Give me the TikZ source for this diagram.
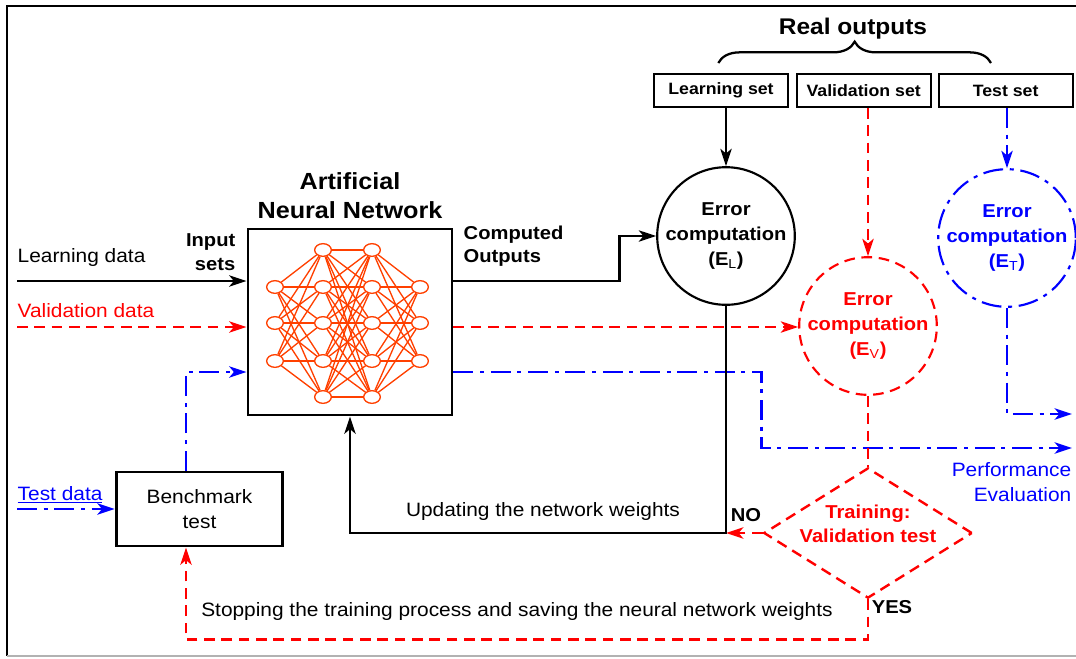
\documentclass[tikz,border=0pt]{standalone}
\usepackage{fontspec}
\setmainfont{Liberation Sans}[FakeStretch=1.08]
\usepackage{tikz}
\usetikzlibrary{
  shapes.geometric, arrows.meta, positioning, calc,
  decorations.pathreplacing
}
\definecolor{colorV}{HTML}{FF0000}
\definecolor{colorT}{HTML}{0000FF}
\definecolor{colorN}{HTML}{FF4000}

\begin{document}
\begin{tikzpicture}[
  x=0.75pt, y=-0.75pt,
  every node/.style={font=\fontsize{14.5}{19}\selectfont},
  bftext/.style={font=\fontsize{14}{17.5}\selectfont\bfseries},
  setbox/.style={draw, line width=1.5pt, minimum width=100.5pt, minimum height=24.75pt,
                 inner sep=0pt, font=\fontsize{12.3}{13}\selectfont\bfseries},
  errcirc/.style={circle, draw, line width=1.6pt, minimum size=100.5pt, inner sep=0pt,
                  align=center, font=\fontsize{14}{18.5}\selectfont\bfseries},
  neuron/.style={ellipse, draw=colorN, line width=1pt, fill=white,
                 minimum width=12.5pt, minimum height=9.5pt, inner sep=0pt},
  syn/.style={draw=colorN, line width=1pt},
  arr/.style={-{Stealth[length=13pt, width=8.5pt, inset=3.5pt]}, line width=1.8pt},
  vdash/.style={colorV, line width=1.8pt, dash pattern=on 8pt off 5pt},
  tdash/.style={colorT, line width=1.8pt, dash pattern=on 15pt off 5pt on 3pt off 5pt}
]
\useasboundingbox (0,0) rectangle (1076,658);
\draw[line width=1.8pt] (1090,6) -- (7,6) -- (7,656);
\draw[gray!60, line width=1pt] (7,656) -- (1090,656);

% network box and neurons
\node[draw, line width=2.2pt, minimum width=153pt, minimum height=139.5pt] (nn) at (350,322) {};
\node[above=3pt of nn, align=center, font=\fontsize{17.5}{21.5}\selectfont\bfseries] (ann) {Artificial\\Neural Network};

\foreach \i/\y in {1/287,2/323,3/361} {
  \node[neuron] (a\i) at (275,\y) {};
  \node[neuron] (d\i) at (420,\y) {};
}
\foreach \i/\y in {1/250,2/287,3/323,4/361,5/397} {
  \node[neuron] (b\i) at (323,\y) {};
  \node[neuron] (c\i) at (372,\y) {};
}
\foreach \i in {1,2,3}
  \foreach \j in {1,...,5} {
    \draw[syn] (a\i) -- (b\j);
    \draw[syn] (c\j) -- (d\i);
  }
\foreach \i in {1,...,5}
  \foreach \j in {1,...,5}
    \draw[syn] (b\i) -- (c\j);

\node[draw, line width=2.2pt, minimum width=125pt, minimum height=55.5pt, align=center] (bench) at (199.5,509) {Benchmark\\test};

% real outputs
\node[setbox] (lset) at (721,90.5) {Learning set};
\node[setbox, right=5pt of lset] (vset) {Validation set};
\node[setbox, right=4.5pt of vset] (tset) {Test set};
\draw[decorate, decoration={brace, amplitude=16pt}, line width=1.7pt]
  ([xshift=-2pt,yshift=7.5pt]lset.north) -- ([xshift=-11pt,yshift=7.5pt]tset.north);
\node[font=\fontsize{17}{19}\selectfont\bfseries] (real) at (853,29) {Real outputs};

% error computations
\node[errcirc] (el) at (726,236) {Error\\computation\\(E\textsubscript{\mdseries L})};
\node[errcirc, colorV, dash pattern=on 8pt off 5pt] (ev) at (868,326) {Error\\computation\\(E\textsubscript{\mdseries V})};
\node[errcirc, colorT, dash pattern=on 15pt off 5pt on 3pt off 5pt] (et) at (1007,238) {Error\\computation\\(E\textsubscript{\mdseries T})};

\node[diamond, draw=colorV, text=colorV, line width=1.8pt, dash pattern=on 8pt off 5pt,
      aspect=1.6, inner xsep=0pt, inner ysep=-4.5pt, minimum width=150pt, minimum height=95pt, align=center,
      text depth=14pt, font=\fontsize{14}{18.5}\selectfont\bfseries] (dia) at (868,533) {Training:\\Validation test};

% inputs
\coordinate (ldata) at (17,281);
\coordinate (vdata) at (17,327);
\coordinate (tdata) at (17,509);
\coordinate (tin) at (186,372);
\coordinate (perf1) at (1072,448);
\coordinate (perf2) at (1072,414);

\draw[arr] (ldata) -- (ldata -| nn.west);
\draw[vdash, arr] (vdata) -- (vdata -| nn.west);
\draw[tdash, arr] (tdata) -- (tdata -| bench.west);
\draw[tdash, arr] (bench.north -| tin) |- (tin -| nn.west);

% outputs
\draw[arr] (ldata -| nn.east) -- ++(166,0) |- (el.west);
\draw[vdash, arr] (vdata -| nn.east) -- (vdata -| ev.west);
\draw[tdash, arr] (tin -| nn.east) -- ++(308,0) |- (perf1);
\draw[tdash, arr] (et.south) |- (perf2);

\draw[arr] (lset.south -| el.north) -- (el.north);
\draw[vdash, arr] (vset.south -| ev.north) -- (ev.north);
\draw[tdash, arr] (tset.south -| et.north) -- (et.north);

\draw[vdash] (ev.south) -- (dia.north);
\draw[vdash, arr] (dia.west) -- (dia.west -| el.south);
\draw[arr] (el.south) -- (el.south |- dia.west) -| (nn.south);
\draw[vdash, arr] (dia.south) -- ++(0,40) -| (bench.south -| tin);

% labels
\node[anchor=west] (ltxt) at (13,257) {Learning data};
\node[anchor=west, text=colorV] (vtxt) at (13,311) {Validation data};
\node[anchor=west, text=colorT] (ttxt) at (13,495) {\underline{Test data}};
\node[bftext, anchor=east, align=right] (inset) at (240,252) {Input\\sets};
\node[bftext, anchor=west, align=left] (cout) at (459,246) {Computed\\Outputs};
\node[anchor=east, align=right, text=colorT] (perf) at (1076,482) {Performance\\Evaluation};
\node (upd) at (543,511) {Updating the network weights};
\node (stop) at (517,611) {Stopping the training process and saving the neural network weights};
\node[bftext] (no) at (746,515) {NO};
\node[bftext] (yes) at (892,607) {YES};

\end{tikzpicture}
\end{document}
